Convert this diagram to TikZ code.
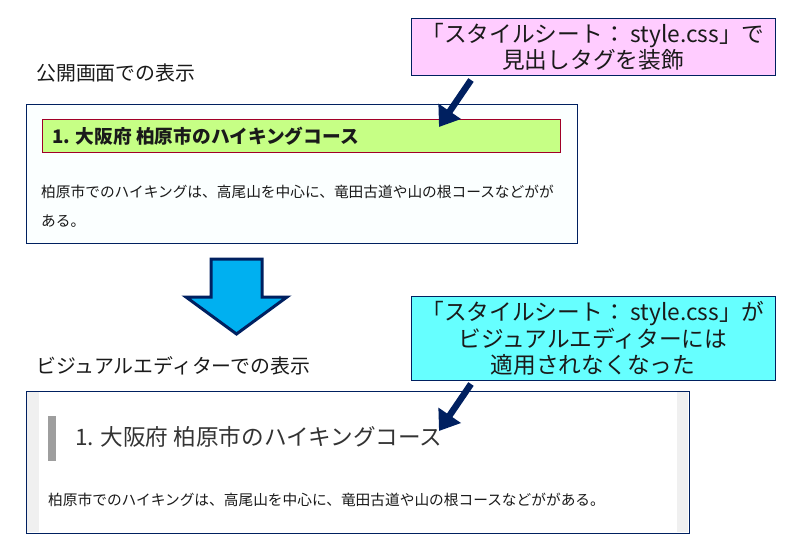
\documentclass[tikz,border=0pt]{standalone}
\usepackage{fontspec}
\usetikzlibrary{arrows.meta}
\setmainfont{Noto Sans CJK JP}[Scale=1.0]
\definecolor{navy}{HTML}{002060}
\definecolor{pinkbox}{HTML}{FFCCFF}
\definecolor{cyanbox}{HTML}{66FFFF}
\definecolor{greenbar}{HTML}{C6FF85}
\definecolor{redline}{HTML}{A00028}
\definecolor{mintbg}{HTML}{FBFFFF}
\definecolor{arrowblue}{HTML}{00B0F0}
\definecolor{txt}{HTML}{1A1A1A}
\definecolor{strip}{HTML}{F0F0F0}
\tikzset{
  callout/.style={draw=navy,line width=1pt,minimum width=364pt,inner sep=0pt,align=center,anchor=north west,font=\fontsize{22.7}{26.5}\selectfont,text=txt},
  panel/.style={draw=navy,line width=1pt,anchor=north west,inner sep=0pt},
  caption/.style={anchor=west,inner sep=0pt,font=\fontsize{19.9}{22}\selectfont,text=txt},
  bodytext/.style={anchor=west,inner sep=0pt,font=\fontsize{14.7}{18}\selectfont,text=txt},
  pointer/.style={draw=navy,line width=6.5pt,-{Triangle[length=19pt,width=26pt]}}
}
\begin{document}
\begin{tikzpicture}[x=1pt,y=-1pt]
\useasboundingbox (0,0) rectangle (800,549);
\node[callout,fill=pinkbox,minimum height=57pt] (css1) at (410.5,18) {「スタイルシート： style.css」で\\見出しタグを装飾};
\node[caption] (cap1) at (36,73) {公開画面での表示};
\node[panel,fill=mintbg,minimum width=551pt,minimum height=139pt] (top) at (25.5,103.5) {};
\node[draw=redline,line width=0.8pt,fill=greenbar,minimum width=518pt,minimum height=33pt,anchor=north west,inner sep=0pt] (bar) at (41.5,119) {};
\node[anchor=west,inner sep=0pt,font=\fontsize{18.7}{20}\selectfont\bfseries,text=txt] (h1) at (52,136) {1. 大阪府 柏原市のハイキングコース};
\node[bodytext] (b1) at (41,192) {柏原市でのハイキングは、高尾山を中心に、竜田古道や山の根コースなどがが};
\node[bodytext] (b2) at (41,221) {ある。};
\coordinate (p1s) at (471,80);
\coordinate (p1e) at (439,127);
\draw[pointer] (p1s) -- (p1e);
\draw[navy,line width=3pt,fill=arrowblue,miter limit=10] (211,259) -- (262,259) -- (262,297) -- (287,297) -- (236.5,334) -- (186,297) -- (211,297) -- cycle;
\node[callout,fill=cyanbox,minimum height=84pt] (css2) at (410.5,296) {「スタイルシート： style.css」が\\ビジュアルエディターには\\適用されなくなった};
\node[caption] (cap2) at (36,366) {ビジュアルエディターでの表示};
\node[panel,fill=white,minimum width=663pt,minimum height=142pt] (low) at (25.5,390.5) {};
\fill[strip] (27,392) rectangle (39,532);
\fill[strip] (677,392) rectangle (688,532);
\fill[black!38] (48,416) rectangle (56,461);
\node[anchor=west,inner sep=0pt,font=\fontsize{22.6}{24}\selectfont,text=black!80] (h2) at (75,436.5) {1. 大阪府 柏原市のハイキングコース};
\node[bodytext] (b3) at (48,500) {柏原市でのハイキングは、高尾山を中心に、竜田古道や山の根コースなどががある。};
\coordinate (p2s) at (471,384);
\coordinate (p2e) at (439,431);
\draw[pointer] (p2s) -- (p2e);
\end{tikzpicture}
\end{document}
